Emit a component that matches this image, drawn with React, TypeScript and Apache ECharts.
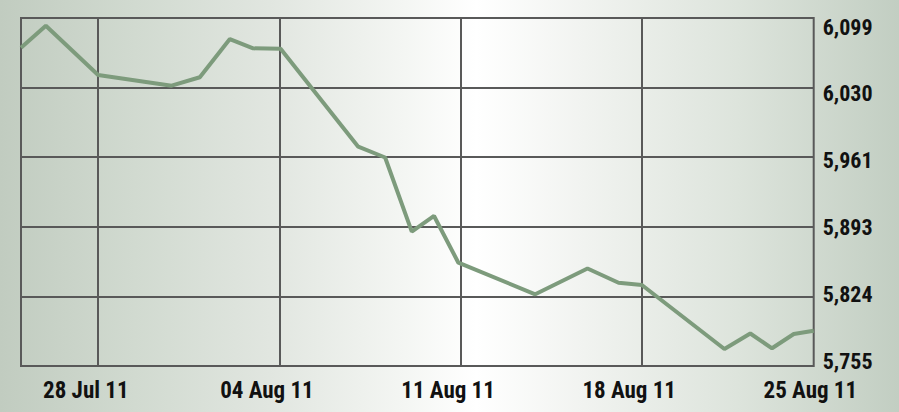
import React, { useEffect, useRef } from "react";
import * as echarts from "echarts";

// Days counted from 28 Jul 2011 (position of each close on the time axis)
const dayOffsets = [-2.98, -2.02, 0, 2.84, 3.93, 5.09, 5.99, 7.05, 10.05, 11.09, 12.12, 12.98, 13.92, 16.89, 18.91, 20.11, 21.01, 24.2, 25.2, 26.04, 26.88, 27.65];
// Index closing values
const closeValues = [6069.6, 6091.4, 6042.7, 6032.1, 6040.4, 6078.2, 6069.0, 6068.6, 5971.8, 5961.1, 5887.8, 5903.3, 5857.1, 5825.9, 5851.4, 5837.3, 5835.1, 5771.8, 5787.1, 5772.5, 5786.6, 5789.9];
// Axis labels
const xTickLabels = ["28 Jul 11", "04 Aug 11", "11 Aug 11", "18 Aug 11", "25 Aug 11"];
const xTickDays = [0, 7, 14, 21];
const yTickLabels = ["5,755", "5,824", "5,893", "5,961", "6,030", "6,099"];
const yMin = 5755;
const yMax = 6099;
const xMin = -2.98;
const xMax = 27.65;

const FONT = '"Roboto Condensed", Roboto, "DejaVu Sans Condensed", sans-serif';
const GRID_COLOR = "#595959";

export default function App() {
  const ref = useRef<HTMLDivElement>(null);
  useEffect(() => {
    if (!ref.current) return;
    const chart = echarts.init(ref.current, undefined, { renderer: "svg" });
    const span = yMax - yMin;
    const step = span / (yTickLabels.length - 1);
    const labelStyle = {
      fontFamily: FONT,
      fontWeight: "bold" as const,
      color: "#111111",
    };
    chart.setOption({
      animation: false,
      grid: [
        {
          left: 21,
          top: 18,
          width: 792.7,
          height: 348,
          show: true,
          borderColor: GRID_COLOR,
          borderWidth: 2,
          backgroundColor: "transparent",
        },
        {
          left: 85.8,
          top: 27,
          width: 724.5,
          height: 334,
          show: false,
        },
      ],
      xAxis: [
        {
          type: "value",
          gridIndex: 0,
          min: xMin,
          max: xMax,
          axisLine: { show: false },
          axisTick: { show: false, customValues: xTickDays },
          axisLabel: { show: false },
          splitLine: { show: true, lineStyle: { color: GRID_COLOR, width: 2 } },
        },
        {
          type: "value",
          gridIndex: 1,
          min: 0,
          max: 28,
          interval: 7,
          axisLine: { show: false },
          axisTick: { show: false },
          splitLine: { show: false },
          axisLabel: {
            ...labelStyle,
            fontSize: 23,
            showMinLabel: true,
            showMaxLabel: true,
            verticalAlign: "middle",
            margin: 29,
            formatter: (_v: number, i: number) => xTickLabels[i],
          },
        },
      ],
      yAxis: [
        {
          type: "value",
          gridIndex: 0,
          position: "right",
          min: 0,
          max: span,
          interval: step,
          axisLine: { show: false },
          axisTick: { show: false },
          axisLabel: { show: false },
          splitLine: { show: true, lineStyle: { color: GRID_COLOR, width: 2 } },
        },
        {
          type: "value",
          gridIndex: 1,
          position: "right",
          min: 0,
          max: span,
          interval: step,
          axisLine: { show: false },
          axisTick: { show: false },
          splitLine: { show: false },
          axisLabel: {
            ...labelStyle,
            fontSize: 22,
            align: "left",
            margin: 12.4,
            showMinLabel: true,
            showMaxLabel: true,
            formatter: (_v: number, i: number) => yTickLabels[i],
          },
        },
      ],
      series: [
        {
          type: "line",
          xAxisIndex: 0,
          yAxisIndex: 0,
          data: dayOffsets.map((d, i) => [d, closeValues[i] - yMin]),
          showSymbol: false,
          symbol: "none",
          lineStyle: { color: "#7d9b7c", width: 4 },
          silent: true,
        },
      ],
    });
    return () => chart.dispose();
  }, []);

  return (
    <div
      ref={ref}
      style={{
        position: "fixed",
        left: 0,
        top: 0,
        width: 899,
        height: 412,
        background:
          "linear-gradient(to right, #c1ccc0 0%, #d1dad0 15%, #e1e6e0 30%, #f4f6f3 45%, #ffffff 53%, #f1f3f0 65%, #dde4dc 82%, #c2cec2 100%)",
      }}
    />
  );
}
